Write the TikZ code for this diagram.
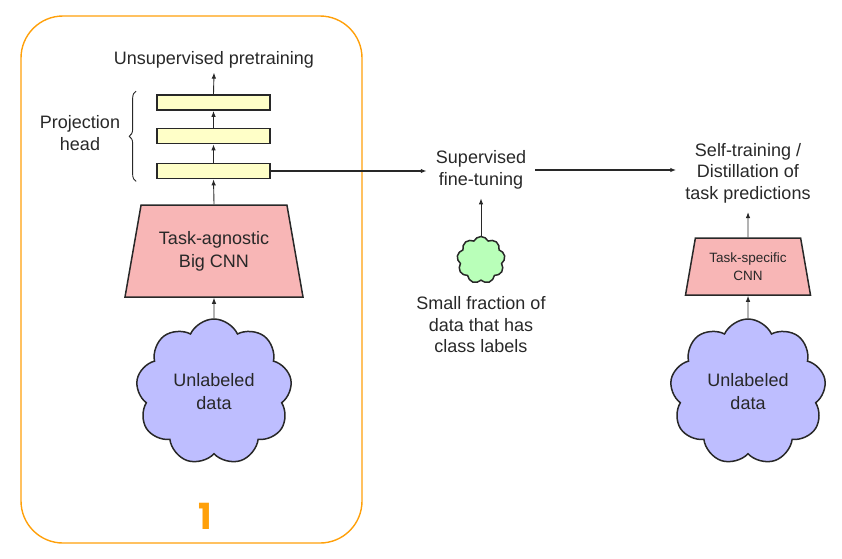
\documentclass[tikz,border=0pt]{standalone}
\usepackage{fontspec}
\setmainfont{Liberation Sans}
\newfontfamily\numfont{Poppins}
\usetikzlibrary{shapes.geometric,shapes.symbols,decorations.pathreplacing,arrows.meta}
\definecolor{frameorange}{RGB}{255,160,10}
\definecolor{layeryellow}{RGB}{255,255,200}
\definecolor{cnnpink}{RGB}{248,182,182}
\definecolor{cloudblue}{RGB}{190,190,255}
\definecolor{cloudgreen}{RGB}{185,255,185}
\definecolor{inkgrey}{RGB}{40,40,40}
\begin{document}
\begin{tikzpicture}[x=1pt, y=-1pt, inkgrey,
    txt/.style={align=center, inner sep=4pt, font=\fontsize{18}{21.5}\selectfont},
    layer/.style={rectangle, draw, line width=1.7pt, fill=layeryellow, minimum width=113pt, minimum height=15pt},
    cnn/.style={trapezium, trapezium stretches body, draw, line width=1.5pt, fill=cnnpink, align=center, inner sep=0pt},
    blob/.style={cloud, cloud puffs=9, cloud puff arc=130, aspect=1, draw, line width=1.5pt, fill=cloudblue, align=center, inner sep=0pt},
    flow/.style={-{Latex[length=6pt,width=4.5pt]}, line width=0.9pt}]
    \useasboundingbox (0,0) rectangle (842,558);

    % stage 1
    \draw[frameorange, line width=1.4pt, rounded corners=42pt] (21,16) rectangle (362,543);
    \node[frameorange, font=\numfont\bfseries\fontsize{36}{36}\selectfont] (one) at (205,516) {1};

    \node[blob, minimum width=156pt, minimum height=146pt, font=\fontsize{18}{23}\selectfont] (data1) at (214,392) {Unlabeled\\data};
    \node[cnn, trapezium angle=68, minimum width=178pt, minimum height=92pt, font=\fontsize{18}{23}\selectfont] (bigcnn) at (214,251) {Task-agnostic\\Big CNN};
    \node[layer] (l3) at (213.5,171) {};
    \node[layer, yshift=35pt] (l2) at (l3) {};
    \node[layer, yshift=33.5pt] (l1) at (l2) {};
    \node[txt] (unsup) at (214,60) {Unsupervised pretraining};
    \node[txt] (proj) at (80,133) {Projection\\head};

    \draw[flow] (data1.north) -- (bigcnn.south);
    \draw[flow] (bigcnn.north) -- (l3.south);
    \draw[flow] (l3.north) -- (l2.south);
    \draw[flow] (l2.north) -- (l1.south);
    \draw[flow] (l1.north) -- (unsup.south);
    \draw[decorate, decoration={brace, amplitude=7pt}, line width=0.9pt] ([xshift=-20pt,yshift=-2pt]l3.south west) -- ([xshift=-20pt,yshift=3pt]l1.north west);

    % fine-tuning
    \node[txt, inner sep=9pt] (sup) at (481,170) {Supervised\\fine-tuning};
    \node[blob, fill=cloudgreen, minimum width=48pt, minimum height=47pt] (data2) at (481,260) {};
    \node[txt] (small) at (481,325) {Small fraction of\\data that has\\class labels};
    \draw[flow] (data2.north) -- (sup.south);
    \draw[flow, line width=1.8pt] (l3.east) -- (l3.east -| sup.west);

    % distillation
    \node[txt, inner sep=9pt] (self) at (748,173) {Self-training /\\Distillation of\\task predictions};
    \node[cnn, trapezium angle=70.5, minimum width=125pt, minimum height=57pt, font=\fontsize{13.5}{18}\selectfont] (smallcnn) at (748,266.5) {Task-specific\\CNN};
    \node[blob, minimum width=156pt, minimum height=146pt, font=\fontsize{18}{23}\selectfont] (data3) at (748,392) {Unlabeled\\data};
    \draw[flow] (data3.north) -- (smallcnn.south);
    \draw[flow] (smallcnn.north) -- (self.south);
    \draw[flow, line width=1.8pt] (sup.east) -- (sup.east -| self.west);
\end{tikzpicture}
\end{document}
